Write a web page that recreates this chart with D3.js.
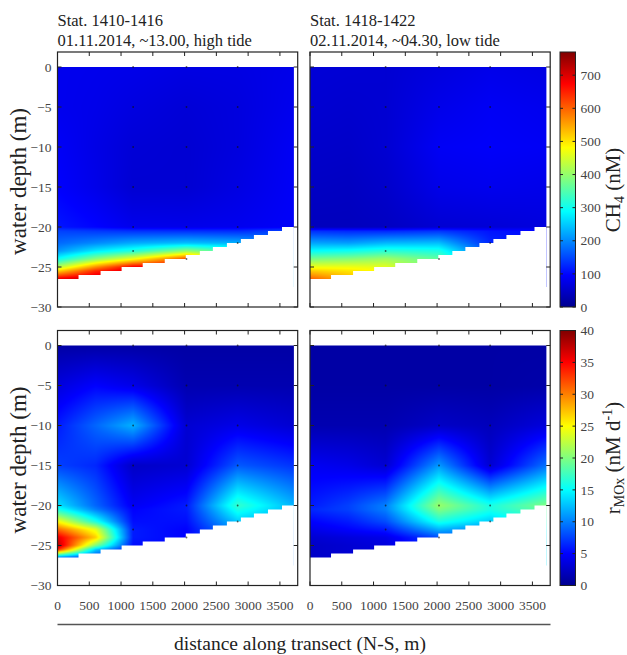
<!DOCTYPE html>
<html>
<head>
<meta charset="utf-8">
<script src="https://cdn.jsdelivr.net/npm/d3@7"></script>
<style>
  body { margin: 0; background: #fff; }
  svg { display: block; font-family: "Liberation Serif", "Times New Roman", serif; }
</style>
</head>
<body>
<svg id="fig" width="627" height="655"></svg>
<script>
// Gridded section: station positions along the transect (m) and depth levels (m)
const stationX = [0, 600, 1190, 2030, 2835, 3720];
const depthLevels = [0, -5, -10, -15, -20, -20.5, -22, -23, -24, -25, -25.5, -26.5, -27.5];

// CH4 (nM); one row per depth level, one column per station
const ch4High = [
  [82, 80, 78, 72, 72, 78],
  [82, 78, 70, 62, 68, 82],
  [90, 75, 62, 58, 68, 88],
  [95, 78, 58, 58, 72, 90],
  [112, 98, 80, 78, 82, 92],
  [145, 138, 132, 130, 128, 150],
  [175, 200, 225, 240, 230, 180],
  [210, 275, 315, 400, 330, 200],
  [295, 395, 475, 620, 400, 220],
  [425, 565, 680, 690, 420, 230],
  [515, 645, 710, 700, 420, 230],
  [690, 720, 730, 700, 420, 230],
  [720, 730, 730, 700, 420, 230]
];
const ch4Low = [
  [62, 60, 58, 68, 78, 72],
  [58, 55, 58, 78, 88, 82],
  [52, 50, 58, 88, 92, 88],
  [46, 44, 52, 78, 82, 78],
  [40, 40, 44, 58, 62, 68],
  [130, 125, 125, 135, 110, 100],
  [220, 215, 235, 240, 125, 100],
  [290, 300, 320, 310, 150, 105],
  [380, 390, 410, 360, 170, 110],
  [470, 470, 460, 370, 170, 110],
  [520, 500, 480, 370, 170, 110],
  [600, 540, 480, 370, 170, 110],
  [620, 560, 480, 370, 170, 110]
];

// Methane oxidation rate rMOx (nM d-1)
const moxHigh = [
  [1, 1, 1, 1, 1, 1],
  [3.5, 5, 4, 1.5, 1.5, 1.5],
  [6, 9, 12, 3, 4, 3],
  [7.5, 6.5, 2.5, 3, 8.5, 7],
  [14, 9, 4.5, 6, 17, 12],
  [16, 10, 5, 6, 16, 12],
  [25, 16, 5.5, 5.5, 13, 11],
  [31, 24, 6, 5, 11, 10],
  [36, 27, 6, 5, 10, 10],
  [38, 20, 5.5, 5, 10, 10],
  [34, 13, 5, 5, 10, 10],
  [10, 7, 5, 5, 10, 10],
  [6, 6, 5, 5, 10, 10]
];
const moxLow = [
  [1, 1, 1, 1, 1, 1],
  [1, 1, 1, 1, 1, 1.2],
  [1.5, 1.5, 1.5, 2.5, 2, 3.5],
  [4.5, 4, 3, 11, 3, 9.5],
  [6, 7.5, 10, 21, 16, 20],
  [6.5, 7.5, 10, 20, 16, 19],
  [5, 6, 8, 16, 13, 17],
  [4, 5, 6, 12, 10, 15],
  [3, 3.5, 4, 8, 9, 14],
  [2.5, 3, 3.5, 7, 9, 14],
  [2.5, 3, 3.5, 7, 9, 14],
  [2.5, 3, 3.5, 7, 9, 14],
  [2.5, 3, 3.5, 7, 9, 14]
];

// Seafloor as resolved by the 0.5 m grid (step start x, bottom depth)
const bedStepX = [0, 331, 678, 1009, 1341, 1688, 2019, 2240, 2445, 2666, 2886, 3091, 3312, 3533];
const bedStepZ = [-26.5, -26, -25.5, -25, -24.5, -24, -23.5, -23, -22.5, -22, -21.5, -21, -20.5, -20];

// Water samples (CTD rosette bottles)
const sampleX = [1190, 2030, 2835];
const sampleZ = [0, -5, -10, -15, -20];
const nearBedX = [1190, 2030, 2835];
const nearBedZ = [-23, -24, -22];

// Axis ticks
const xTicks = [0, 500, 1000, 1500, 2000, 2500, 3000, 3500];
const yTicks = [0, -5, -10, -15, -20, -25, -30];
const ch4Ticks = [0, 100, 200, 300, 400, 500, 600, 700];
const moxTicks = [0, 5, 10, 15, 20, 25, 30, 35, 40];
const ch4Max = 770;
const moxMax = 40;

const titlesLeft = ["Stat. 1410-1416", "01.11.2014, ~13.00, high tide"];
const titlesRight = ["Stat. 1418-1422", "02.11.2014, ~04.30, low tide"];

// ---------------------------------------------------------------------------
const svg = d3.select("#fig");
const minus = s => String(s).replace("-", "\u2212");

// MATLAB "jet" colormap as a piecewise-linear d3 scale
function jet(vmax) {
  return d3.scaleLinear()
    .domain([0, 0.125, 0.375, 0.625, 0.875, 1].map(f => f * vmax))
    .range(["#00008f", "#0000ff", "#00ffff", "#ffff00", "#ff0000", "#800000"])
    .clamp(true);
}
const ch4Color = jet(ch4Max);
const moxColor = jet(moxMax);

const negDepth = depthLevels.map(d => -d);
function sampleGrid(grid, xv, dv) {
  let k = d3.bisectRight(stationX, xv) - 1;
  k = Math.max(0, Math.min(stationX.length - 2, k));
  const tx = Math.max(0, Math.min(1, (xv - stationX[k]) / (stationX[k + 1] - stationX[k])));
  let r = d3.bisectRight(negDepth, -dv) - 1;
  r = Math.max(0, Math.min(negDepth.length - 2, r));
  const tz = Math.max(0, Math.min(1, (-dv - negDepth[r]) / (negDepth[r + 1] - negDepth[r])));
  const a = grid[r][k], b = grid[r][k + 1], c = grid[r + 1][k], d = grid[r + 1][k + 1];
  return (a * (1 - tx) + b * tx) * (1 - tz) + (c * (1 - tx) + d * tx) * tz;
}

const PW = 240.2, PH = 255;
const panels = [
  { left: 57.5, top: 52,    grid: ch4High, color: ch4Color, titles: titlesLeft,  xLabels: false, yLabels: true },
  { left: 310,  top: 52,    grid: ch4Low,  color: ch4Color, titles: titlesRight, xLabels: false, yLabels: false },
  { left: 57.5, top: 330.5, grid: moxHigh, color: moxColor, titles: null, xLabels: true, yLabels: true },
  { left: 310,  top: 330.5, grid: moxLow,  color: moxColor, titles: null, xLabels: true, yLabels: false }
];

panels.forEach(p => {
  const x = d3.scaleLinear().domain([0, 3780]).range([p.left, p.left + PW]);
  const y = d3.scaleLinear().domain([-30, 1.875]).range([p.top + PH, p.top]);
  const g = svg.append("g");

  // interpolated field raster
  const fx0 = x(stationX[0]), fx1 = x(stationX[stationX.length - 1]);
  const fy0 = y(depthLevels[0]), fy1 = y(depthLevels[depthLevels.length - 1]);
  const w = Math.round(fx1 - fx0), h = Math.round(fy1 - fy0);
  const canvas = document.createElement("canvas");
  canvas.width = w; canvas.height = h;
  const ctx = canvas.getContext("2d");
  const img = ctx.createImageData(w, h);
  for (let j = 0; j < h; j++) {
    const dv = y.invert(fy0 + (j + 0.5) * (fy1 - fy0) / h);
    for (let i = 0; i < w; i++) {
      const xv = x.invert(fx0 + (i + 0.5) * (fx1 - fx0) / w);
      const c = d3.rgb(p.color(sampleGrid(p.grid, xv, dv)));
      const o = (j * w + i) * 4;
      img.data[o] = c.r; img.data[o + 1] = c.g; img.data[o + 2] = c.b; img.data[o + 3] = 255;
    }
  }
  ctx.putImageData(img, 0, 0);
  g.append("image")
    .attr("href", canvas.toDataURL())
    .attr("x", fx0).attr("y", fy0)
    .attr("width", fx1 - fx0).attr("height", fy1 - fy0)
    .attr("preserveAspectRatio", "none");

  // seafloor (no data below the bottom)
  const bed = bedStepX.map((bx, i) => ({ x: bx, z: bedStepZ[i] }));
  bed.push({ x: stationX[stationX.length - 1], z: bedStepZ[bedStepZ.length - 1] });
  g.append("path")
    .datum(bed)
    .attr("fill", "#fff")
    .attr("d", d3.area().curve(d3.curveStepAfter)
      .x(d => x(d.x)).y0(y(-30)).y1(d => y(d.z)));

  // sample positions
  const pts = [];
  sampleX.forEach(sx => sampleZ.forEach(sz => pts.push([sx, sz])));
  nearBedX.forEach((sx, i) => pts.push([sx, nearBedZ[i]]));
  g.selectAll("circle.s").data(pts).join("circle")
    .attr("cx", d => x(d[0])).attr("cy", d => y(d[1])).attr("r", 0.9)
    .attr("fill", "#111").attr("opacity", 0.65);

  // frame
  g.append("rect")
    .attr("x", p.left).attr("y", p.top).attr("width", PW).attr("height", PH)
    .attr("fill", "none").attr("stroke", "#222").attr("stroke-width", 1.2);

  // inward ticks on all four sides
  const tl = 4;
  xTicks.forEach(t => {
    g.append("line").attr("x1", x(t)).attr("x2", x(t)).attr("y1", p.top + PH).attr("y2", p.top + PH - tl)
      .attr("stroke", "#222");
    g.append("line").attr("x1", x(t)).attr("x2", x(t)).attr("y1", p.top).attr("y2", p.top + tl)
      .attr("stroke", "#222");
  });
  yTicks.forEach(t => {
    g.append("line").attr("x1", p.left).attr("x2", p.left + tl).attr("y1", y(t)).attr("y2", y(t))
      .attr("stroke", "#222");
    g.append("line").attr("x1", p.left + PW).attr("x2", p.left + PW - tl).attr("y1", y(t)).attr("y2", y(t))
      .attr("stroke", "#222");
  });

  if (p.yLabels) {
    g.selectAll("text.yt").data(yTicks).join("text")
      .attr("x", p.left - 6).attr("y", d => y(d)).attr("dy", "0.35em")
      .attr("text-anchor", "end").attr("font-size", 13.5).attr("fill", "#444")
      .text(d => minus(d));
    g.append("text")
      .attr("transform", `translate(${p.left - 32},${p.top + PH / 2 + 2}) rotate(-90)`)
      .attr("text-anchor", "middle").attr("font-size", 23).attr("fill", "#222")
      .text("water depth (m)");
  }
  if (p.xLabels) {
    g.selectAll("text.xt").data(xTicks).join("text")
      .attr("x", d => x(d)).attr("y", p.top + PH + 24)
      .attr("text-anchor", "middle").attr("font-size", 13.5).attr("fill", "#444")
      .text(d => d);
  }
  if (p.titles) {
    p.titles.forEach((t, i) => {
      g.append("text").attr("x", p.left).attr("y", 26 + i * 19.5)
        .attr("font-size", 16.5).attr("fill", "#222").text(t);
    });
  }
});

// colour bars
function colorbar(top, vmax, color, ticks, id) {
  const left = 560, cw = 15.5, ch = PH;
  const s = d3.scaleLinear().domain([0, vmax]).range([top + ch, top]);
  const grad = svg.append("defs").append("linearGradient")
    .attr("id", id).attr("x1", 0).attr("y1", 1).attr("x2", 0).attr("y2", 0);
  color.domain().forEach(v => {
    grad.append("stop").attr("offset", v / vmax).attr("stop-color", color(v));
  });
  svg.append("rect").attr("x", left).attr("y", top).attr("width", cw).attr("height", ch)
    .attr("fill", `url(#${id})`).attr("stroke", "#222").attr("stroke-width", 1);
  ticks.forEach(t => {
    svg.append("line").attr("x1", left).attr("x2", left + 3).attr("y1", s(t)).attr("y2", s(t)).attr("stroke", "#222");
    svg.append("line").attr("x1", left + cw).attr("x2", left + cw - 3).attr("y1", s(t)).attr("y2", s(t)).attr("stroke", "#222");
    svg.append("text").attr("x", left + cw + 5).attr("y", s(t)).attr("dy", "0.35em")
      .attr("font-size", 13.5).attr("fill", "#444").text(t);
  });
}
colorbar(52, ch4Max, ch4Color, ch4Ticks, "cbCH4");
colorbar(330.5, moxMax, moxColor, moxTicks, "cbMOx");

// colour bar titles
const lab1 = svg.append("text")
  .attr("transform", `translate(620,190) rotate(-90)`)
  .attr("text-anchor", "middle").attr("font-size", 21).attr("fill", "#222");
lab1.append("tspan").text("CH");
lab1.append("tspan").attr("font-size", 14).attr("dy", 4).text("4");
lab1.append("tspan").attr("dy", -4).text(" (nM)");

const lab2 = svg.append("text")
  .attr("transform", `translate(620,${330.5 + PH / 2}) rotate(-90)`)
  .attr("text-anchor", "middle").attr("font-size", 21).attr("fill", "#222");
lab2.append("tspan").text("r");
lab2.append("tspan").attr("font-size", 14).attr("dy", 4).text("MOx");
lab2.append("tspan").attr("dy", -4).text(" (nM d");
lab2.append("tspan").attr("font-size", 14).attr("dy", -8).text("-1");
lab2.append("tspan").attr("dy", 8).text(")");

// shared x-axis title
svg.append("line").attr("x1", 57.5).attr("x2", 550.5).attr("y1", 624.5).attr("y2", 624.5)
  .attr("stroke", "#555").attr("stroke-width", 1.5);
svg.append("text").attr("x", 300).attr("y", 650)
  .attr("text-anchor", "middle").attr("font-size", 19.5).attr("fill", "#222")
  .text("distance along transect (N-S, m)");
</script>
</body>
</html>
